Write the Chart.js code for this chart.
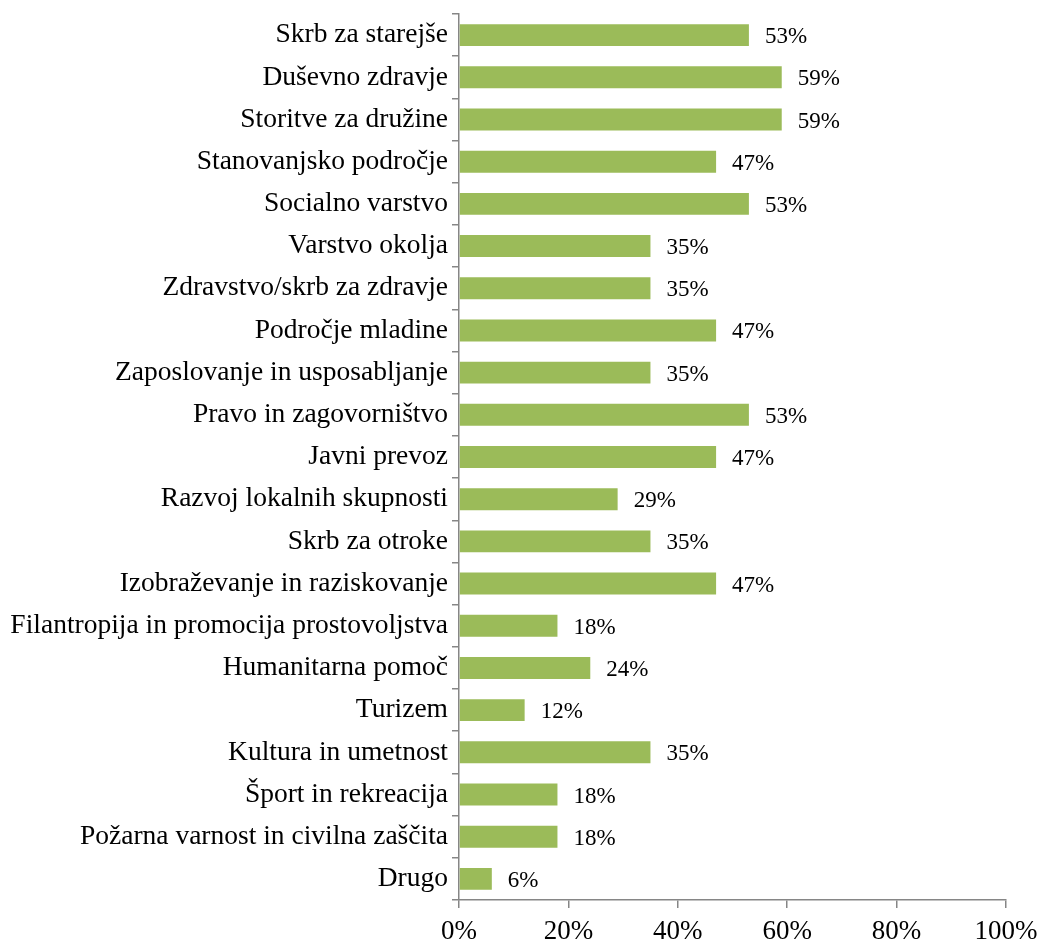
<!DOCTYPE html>
<html>
<head>
<meta charset="utf-8">
<script src="https://cdn.jsdelivr.net/npm/chart.js@4/dist/chart.umd.min.js"></script>
<style>
  html, body { margin: 0; padding: 0; background: #fff; overflow: hidden; }
  #wrap { width: 1037px; height: 942px; position: relative; }
</style>
</head>
<body>
<div id="wrap"><canvas id="areasChart"></canvas></div>
<script>
// Področja delovanja (delež organizacij, %)
const areas = [
  'Skrb za starejše',
  'Duševno zdravje',
  'Storitve za družine',
  'Stanovanjsko področje',
  'Socialno varstvo',
  'Varstvo okolja',
  'Zdravstvo/skrb za zdravje',
  'Področje mladine',
  'Zaposlovanje in usposabljanje',
  'Pravo in zagovorništvo',
  'Javni prevoz',
  'Razvoj lokalnih skupnosti',
  'Skrb za otroke',
  'Izobraževanje in raziskovanje',
  'Filantropija in promocija prostovoljstva',
  'Humanitarna pomoč',
  'Turizem',
  'Kultura in umetnost',
  'Šport in rekreacija',
  'Požarna varnost in civilna zaščita',
  'Drugo',
];
const shares = [53, 59, 59, 47, 53, 35, 35, 47, 35, 53, 47, 29, 35, 47, 18, 24, 12, 35, 18, 18, 6];
const xTicks = [0, 20, 40, 60, 80, 100];

const FONT = "'Liberation Serif', 'Times New Roman', serif";
const AXIS_GREY = '#868686';

const valueLabelPlugin = {
  id: 'valueLabel',
  afterDatasetsDraw(chart) {
    const { ctx } = chart;
    const meta = chart.getDatasetMeta(0);
    meta.data.forEach((bar, i) => {
      ctx.save();
      ctx.fillStyle    = '#000';
      ctx.font         = '23px ' + FONT;
      ctx.textAlign    = 'left';
      ctx.textBaseline = 'middle';
      ctx.fillText(shares[i] + '%', bar.x + 16, bar.y + 2);
      ctx.restore();
    });
  },
};

new Chart(document.getElementById('areasChart'), {
  type: 'bar',
  data: {
    labels: areas,
    datasets: [{
      data: shares,
      backgroundColor: '#9BBB59',
      borderWidth: 0,
      categoryPercentage: 1,
      barPercentage: 0.52,
    }],
  },
  plugins: [valueLabelPlugin],
  options: {
    indexAxis: 'y',
    responsive: true,
    maintainAspectRatio: false,
    animation: false,
    layout: { padding: { top: 14, right: 31, left: 0, bottom: 0 } },
    plugins: { legend: { display: false }, tooltip: { enabled: false } },
    scales: {
      x: {
        min: 0,
        max: 100,
        afterBuildTicks: (scale) => { scale.ticks = xTicks.map(v => ({ value: v })); },
        afterFit: (scale) => {
          scale.height = 42;
          // let the last "100%" label hang into the layout padding
          scale.paddingLeft = 0;
          scale.paddingRight = 0;
        },
        ticks: {
          color: '#000',
          font: { family: FONT, size: 27 },
          padding: 8,
          maxRotation: 0,
          callback: (v) => v + '%',
        },
        grid: { drawOnChartArea: false, drawTicks: true, tickLength: 8, color: AXIS_GREY, lineWidth: 1.5 },
        border: { color: AXIS_GREY, width: 1.5 },
      },
      y: {
        afterFit: (scale) => {
          scale.width = 459;
          scale.paddingTop = 0;
          scale.paddingBottom = 0;
        },
        ticks: {
          color: '#000',
          font: { family: FONT, size: 27.5 },
          padding: 4,
          autoSkip: false,
        },
        grid: { drawOnChartArea: false, drawTicks: true, tickLength: 7, color: AXIS_GREY, lineWidth: 1.5, offset: true },
        border: { color: AXIS_GREY, width: 1.5 },
      },
    },
  },
});
</script>
</body>
</html>
